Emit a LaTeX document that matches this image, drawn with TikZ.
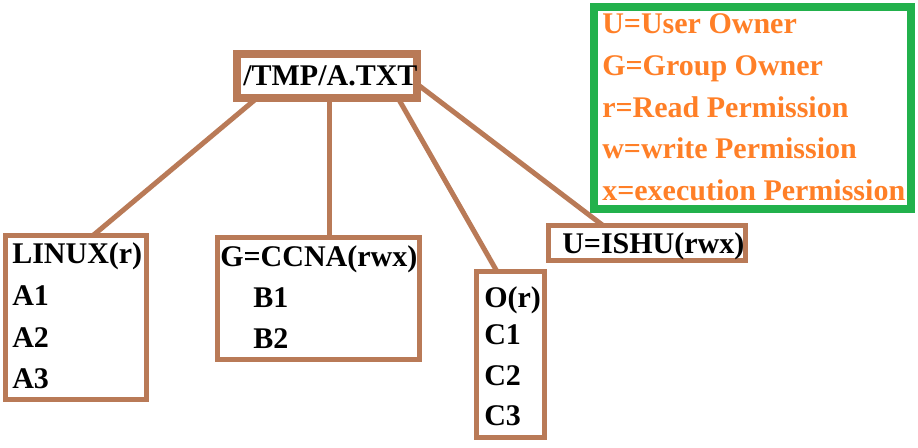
\documentclass[tikz,border=0pt]{standalone}
\usepackage{fontspec}
\setmainfont{Liberation Serif}
\usetikzlibrary{calc}
\definecolor{boxbrown}{HTML}{B97A57}
\definecolor{legendgreen}{HTML}{22B14C}
\definecolor{legendorange}{HTML}{FF7F27}
\begin{document}
\begin{tikzpicture}[x=0.75pt,y=-0.75pt,
  box/.style={draw=boxbrown, line width=3.75pt, rectangle, inner sep=0pt, outer sep=0pt},
  link/.style={draw=boxbrown, line width=3.75pt},
  txt/.style={anchor=base west, inner sep=0pt, font=\fontsize{22.5pt}{27pt}\selectfont\bfseries},
  legtxt/.style={txt, text=legendorange}]
\useasboundingbox (0,0) rectangle (918,447);
% boxes (size = centre line of border)
\node[box, line width=6pt, minimum width=180*0.75pt, minimum height=44*0.75pt] (top) at (327,76) {};
\node[box, minimum width=141*0.75pt, minimum height=164*0.75pt] (linux) at (76,317.5) {};
\node[box, minimum width=202*0.75pt, minimum height=122*0.75pt] (grp) at (318.5,298.5) {};
\node[box, minimum width=68*0.75pt, minimum height=166*0.75pt] (oth) at (510.5,354.5) {};
\node[box, minimum width=197*0.75pt, minimum height=35*0.75pt] (usr) at (647,243) {};
\node[box, draw=legendgreen, line width=6pt, minimum width=317*0.75pt, minimum height=202*0.75pt] (legend) at (752.5,108) {};
% connectors
\draw[link] ($(top.south)+(-70,0)$) -- ($(linux.north)+(17,0)$);
\draw[link] ($(top.south)+(2,0)$) -- ($(grp.north)+(10.5,0)$);
\draw[link] ($(top.south)+(71,0)$) -- ($(oth.north)+(-13.5,0)$);
\draw[link] ($(top.east)+(0,8)$) -- ($(usr.north)+(-44,0)$);
% texts
\node[txt] (ttop) at (243,85) {/TMP/A.TXT};
\node[txt] (l0) at (12,263) {LINUX(r)};
\node[txt] (l1) at (12,305) {A1};
\node[txt] (l2) at (12,347) {A2};
\node[txt] (l3) at (12,388) {A3};
\node[txt] (g0) at (220,266) {G=CCNA(rwx)};
\node[txt] (g1) at (253,307) {B1};
\node[txt] (g2) at (253,348) {B2};
\node[txt] (o0) at (484,307) {O(r)};
\node[txt] (o1) at (484,344) {C1};
\node[txt] (o2) at (484,385) {C2};
\node[txt] (o3) at (484,425) {C3};
\node[txt] (u0) at (562,253) {U=ISHU(rwx)};
\node[legtxt] (k0) at (602,33) {U=User Owner};
\node[legtxt] (k1) at (602,75) {G=Group Owner};
\node[legtxt] (k2) at (602,117) {r=Read Permission};
\node[legtxt] (k3) at (602,158) {w=write Permission};
\node[legtxt] (k4) at (602,200) {x=execution Permission};
\end{tikzpicture}
\end{document}
